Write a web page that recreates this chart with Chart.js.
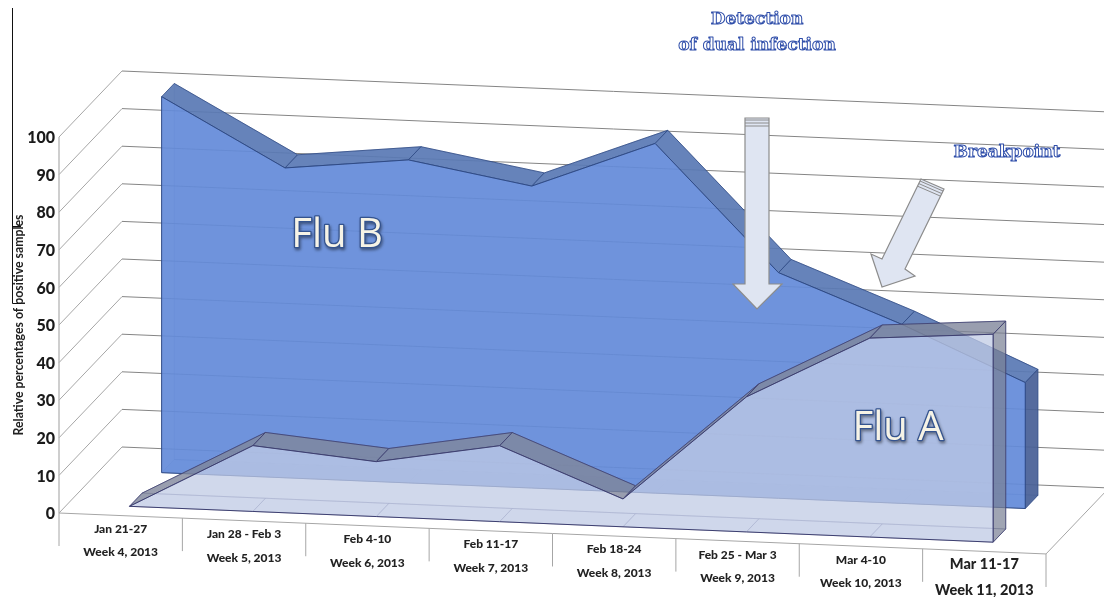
<!DOCTYPE html>
<html>
<head>
<meta charset="utf-8">
<style>
  html, body { margin: 0; background: #fff; }
  canvas { display: block; }
</style>
<script src="https://cdn.jsdelivr.net/npm/chart.js@4/dist/chart.umd.js"></script>
</head>
<body>
<canvas id="grafico" width="1104" height="597"></canvas>
<script>
const semanas = ["Jan 21-27", "Jan 28 - Feb 3", "Feb 4-10", "Feb 11-17", "Feb 18-24", "Feb 25 - Mar 3", "Mar 4-10", "Mar 11-17"];
const semanasNum = ["Week 4, 2013", "Week 5, 2013", "Week 6, 2013", "Week 7, 2013", "Week 8, 2013", "Week 9, 2013", "Week 10, 2013", "Week 11, 2013"];
const fluA = [0, 17.5, 14.6, 20.2, 7.4, 35.9, 52.9, 55.3];
const fluB = [100, 82.4, 85.9, 80.3, 93, 60, 47.6, 33.5];
const ticksY = [0, 10, 20, 30, 40, 50, 60, 70, 80, 90, 100];

// oblique projection of the 3d box
const INCL = 0.0415;
const FUNDO_X = 63;
const FUNDO_Y = 66;
const ESQ = 59;

function proj(x, y, d) {
  return [x + d * FUNDO_X, y + (x - ESQ) * INCL - d * FUNDO_Y];
}

function poligono(ctx, pts, fill, stroke, lw) {
  ctx.beginPath();
  pts.forEach((p, i) => i ? ctx.lineTo(p[0], p[1]) : ctx.moveTo(p[0], p[1]));
  ctx.closePath();
  if (fill) { ctx.fillStyle = fill; ctx.fill(); }
  if (stroke) { ctx.strokeStyle = stroke; ctx.lineWidth = lw || 1; ctx.stroke(); }
}

// filled area extruded in depth, points come from the line controller
class Area3dController extends Chart.LineController {
  static id = "area3d";
  static defaults = Chart.LineController.defaults;

  draw() {
    const ctx = this.chart.ctx;
    const ds = this.getDataset();
    const pontos = this.getMeta().data;
    const base = this.chart.scales.y.getPixelForValue(0);
    const c = ds.cores;
    const f = pontos.map(p => proj(p.x, p.y, ds.frente));
    const t = pontos.map(p => proj(p.x, p.y, ds.tras));
    const fb = pontos.map(p => proj(p.x, base, ds.frente));
    const tb = pontos.map(p => proj(p.x, base, ds.tras));
    const n = pontos.length - 1;

    ctx.save();
    ctx.lineJoin = "round";
    // bottom
    for (let i = 0; i < n; i++) {
      poligono(ctx, [fb[i], fb[i + 1], tb[i + 1], tb[i]], c.fundo, c.linhaFina, 0.7);
    }
    // back
    poligono(ctx, t.concat(tb.slice().reverse()), c.atras, c.linhaFina, 0.7);
    // top
    for (let i = 0; i < n; i++) {
      poligono(ctx, [f[i], f[i + 1], t[i + 1], t[i]], c.topo, c.linha, 0.8);
    }
    // right side
    poligono(ctx, [f[n], t[n], tb[n], fb[n]], c.lado, c.linha, 0.8);
    // front
    poligono(ctx, f.concat(fb.slice().reverse()), c.frente, c.linha, 1);
    ctx.restore();
  }
}
Chart.register(Area3dController);

const paredes = {
  id: "paredes",
  beforeDatasetsDraw(chart) {
    const ctx = chart.ctx;
    const { x, y } = chart.scales;
    const esq = x.left, dir = x.right;
    ctx.save();
    ctx.lineWidth = 1;
    ticksY.forEach(v => {
      const py = y.getPixelForValue(v);
      const a = proj(esq, py, 0), b = proj(esq, py, 1), c = proj(dir, py, 1);
      ctx.strokeStyle = "#a6a6a6";
      ctx.beginPath(); ctx.moveTo(a[0], a[1]); ctx.lineTo(b[0], b[1]); ctx.stroke();
      ctx.strokeStyle = "#858585";
      ctx.beginPath(); ctx.moveTo(b[0], b[1]); ctx.lineTo(c[0], c[1]); ctx.stroke();
    });
    // front edge of the floor, right diagonal and the week ticks
    const py0 = y.getPixelForValue(0);
    const f0 = proj(esq, py0, 0), f1 = proj(dir, py0, 0), f2 = proj(dir, py0, 1);
    ctx.strokeStyle = "#a6a6a6";
    ctx.beginPath(); ctx.moveTo(f0[0], f0[1]); ctx.lineTo(f1[0], f1[1]); ctx.lineTo(f2[0], f2[1]); ctx.stroke();
    const largura = (dir - esq) / semanas.length;
    for (let i = 0; i <= semanas.length; i++) {
      const p = proj(esq + i * largura, py0, 0);
      ctx.beginPath(); ctx.moveTo(p[0], p[1]); ctx.lineTo(p[0], p[1] + 33); ctx.stroke();
    }
    const topo = y.getPixelForValue(100);
    ctx.lineWidth = 1.3;
    ctx.strokeStyle = "#b4b4b4";
    ctx.beginPath(); ctx.moveTo(esq, topo); ctx.lineTo(esq, py0); ctx.stroke();

    // stray black bracket next to the axis title
    ctx.strokeStyle = "#111";
    ctx.lineWidth = 1;
    ctx.beginPath();
    ctx.moveTo(12.5, 8); ctx.lineTo(12.5, 303.5); ctx.lineTo(21, 303.5);
    ctx.moveTo(12.5, 226.5); ctx.lineTo(21, 226.5);
    ctx.stroke();
    ctx.restore();
  },
  afterDraw(chart) {
    const ctx = chart.ctx;
    const { x, y } = chart.scales;
    const py0 = y.getPixelForValue(0);
    ctx.save();
    ctx.textAlign = "center";
    ctx.textBaseline = "middle";
    ctx.fillStyle = "#222";
    semanas.forEach((s, i) => {
      const p = proj(x.getPixelForValue(i), py0, 0);
      const ultimo = i === semanas.length - 1;
      ctx.font = "900 " + (ultimo ? 14.5 : 12) + "px Lato";
      ctx.fillText(s, p[0], p[1] + (ultimo ? 12.5 : 13.5));
      ctx.fillText(semanasNum[i], p[0], p[1] + (ultimo ? 39 : 37));
    });
    ctx.restore();

    // the two arrows
    ctx.save();
    const corSeta = "#dfe5f2", bordaSeta = "#8c8c8c";
    poligono(ctx, [[745, 118], [769, 118], [769, 284], [782, 284], [757, 309], [733, 284], [745, 284]], corSeta, bordaSeta, 1.2);
    [120, 123, 126].forEach(l => {
      ctx.strokeStyle = bordaSeta; ctx.lineWidth = 1;
      ctx.beginPath(); ctx.moveTo(745, l); ctx.lineTo(769, l); ctx.stroke();
    });
    poligono(ctx, [[921, 179], [944, 189], [905, 269], [915, 276], [882, 287], [871, 254], [882, 259]], corSeta, bordaSeta, 1.2);
    [[0, 0], [1.2, 2.6], [2.4, 5.2]].forEach(o => {
      ctx.strokeStyle = bordaSeta; ctx.lineWidth = 1;
      ctx.beginPath(); ctx.moveTo(920 - o[0], 181 + o[1]); ctx.lineTo(943 - o[0], 191 + o[1]); ctx.stroke();
    });
    ctx.restore();

    // outlined captions
    ctx.save();
    ctx.textAlign = "center";
    ctx.textBaseline = "middle";
    ctx.lineJoin = "round";
    ctx.font = "bold 17px 'DejaVu Serif'";
    [["Detection", 757, 20], ["of dual infection", 757, 46], ["Breakpoint", 1007, 153]].forEach(t => {
      ctx.fillStyle = "#fff";
      ctx.fillText(t[0], t[1], t[2]);
      ctx.strokeStyle = "#2f4eaa";
      ctx.lineWidth = 1;
      ctx.strokeText(t[0], t[1], t[2]);
    });
    ctx.font = "40px 'Open Sans'";
    [["Flu B", 337, 236], ["Flu A", 898, 429]].forEach(t => {
      ctx.save();
      ctx.shadowColor = "rgba(0,0,0,0.45)";
      ctx.shadowBlur = 3;
      ctx.shadowOffsetX = 1;
      ctx.shadowOffsetY = 2;
      ctx.strokeStyle = "#34538f";
      ctx.lineWidth = 2.6;
      ctx.strokeText(t[0], t[1], t[2]);
      ctx.restore();
      ctx.fillStyle = "#f6f3e6";
      ctx.fillText(t[0], t[1], t[2]);
    });
    ctx.restore();
  }
};

new Chart(document.getElementById("grafico"), {
  type: "line",
  data: {
    labels: semanas,
    datasets: [
      {
        type: "area3d",
        label: "Flu A",
        data: fluA,
        clip: false,
        pointRadius: 0,
        frente: 0.14,
        tras: 0.34,
        cores: {
          frente: "rgba(192,202,229,0.72)",
          atras: "rgba(192,202,229,0.12)",
          fundo: "rgba(192,202,229,0.18)",
          topo: "rgba(125,132,152,0.78)",
          lado: "rgba(120,126,145,0.68)",
          linha: "#3d3f70",
          linhaFina: "rgba(70,75,120,0.5)"
        }
      },
      {
        type: "area3d",
        label: "Flu B",
        data: fluB,
        clip: false,
        pointRadius: 0,
        frente: 0.65,
        tras: 0.85,
        cores: {
          frente: "rgba(100,139,217,0.92)",
          atras: "rgba(100,139,217,0.08)",
          fundo: "rgba(100,139,217,0.12)",
          topo: "rgba(90,122,180,0.92)",
          lado: "rgba(72,96,150,0.92)",
          linha: "#2f4a85",
          linhaFina: "rgba(47,74,133,0.4)"
        }
      }
    ]
  },
  options: {
    responsive: false,
    animation: false,
    layout: { padding: { top: 137, right: 58, bottom: 84, left: 0 } },
    plugins: { legend: { display: false }, tooltip: { enabled: false } },
    scales: {
      x: {
        type: "category",
        offset: true,
        grid: { display: false, drawTicks: false },
        border: { display: false },
        ticks: { display: false },
        afterFit: s => { s.height = 0; }
      },
      y: {
        type: "linear",
        min: 0,
        max: 100,
        afterBuildTicks: s => { s.ticks = ticksY.map(v => ({ value: v })); },
        afterFit: s => { s.width = 59; },
        grid: { display: false, drawTicks: false },
        border: { display: false },
        ticks: { padding: 4, labelOffset: 1, color: "#1a1a1a", font: { family: "Lato", size: 16, weight: "900" } },
        title: {
          display: true,
          text: "Relative percentages of positive samples",
          color: "#222",
          font: { family: "Lato", size: 12.3, weight: "bold" },
          padding: { top: 12, bottom: 0 }
        }
      }
    }
  },
  plugins: [paredes]
});
</script>
</body>
</html>
